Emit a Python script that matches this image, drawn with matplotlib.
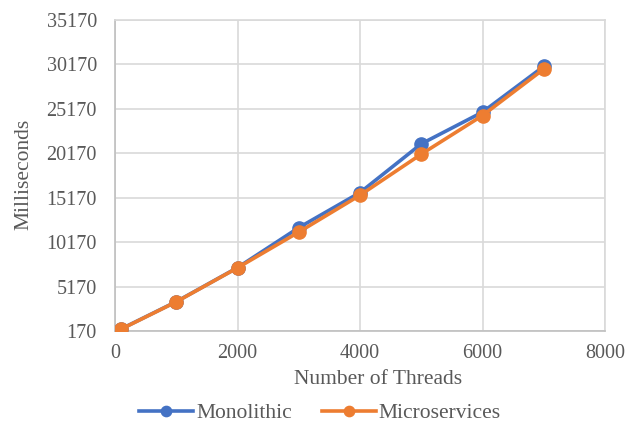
import matplotlib
matplotlib.use("Agg")
import matplotlib.pyplot as plt

threads = [100, 1000, 2000, 3000, 4000, 5000, 6000, 7000]
monolithic = [400, 3470, 7300, 11800, 15750, 21230, 24800, 29950]
microservices = [380, 3450, 7280, 11300, 15450, 20070, 24420, 29650]
yticks = [170, 5170, 10170, 15170, 20170, 25170, 30170, 35170]
xticks = [0, 2000, 4000, 6000, 8000]

plt.rcParams['font.family'] = ['Liberation Serif', 'DejaVu Serif']

W, H = 627, 424
fig = plt.figure(figsize=(W / 100, H / 100), dpi=100)
ax = fig.add_axes([115 / W, 1 - 331 / H, 490 / W, 311 / H])

blue = '#4472C4'
orange = '#ED7D31'
ax.plot(threads, monolithic, color=blue, lw=2.6, marker='o', ms=9.5, label='Monolithic', zorder=3)
ax.plot(threads, microservices, color=orange, lw=2.6, marker='o', ms=9.5, label='Microservices', zorder=4)

ax.set_xlim(0, 8000)
ax.set_ylim(170, 35170)
ax.set_xticks(xticks)
ax.set_yticks(yticks)
ax.grid(True, color='#D9D9D9', lw=1.2)
ax.set_axisbelow(True)
for s in ax.spines.values():
    s.set_color('#D9D9D9')
    s.set_linewidth(1.2)
ax.spines['bottom'].set_color('#BFBFBF')
ax.spines['left'].set_color('#BFBFBF')
ax.tick_params(axis='x', length=0, labelsize=14.5, colors='#595959', pad=9)
ax.tick_params(axis='y', length=0, labelsize=14.5, colors='#595959', pad=13)

fig.text(378 / W, 1 - 380 / H, 'Number of Threads', fontsize=15.5, color='#595959',
         ha='center', va='center')
fig.text(23.5 / W, 1 - 174 / H, 'Milliseconds', fontsize=15.5, color='#595959',
         ha='center', va='center', rotation=90)

leg = fig.legend(loc='center', bbox_to_anchor=(320 / W, 1 - 413 / H), ncol=2, frameon=False,
                 fontsize=15.5, handlelength=2.5, columnspacing=1.4, handletextpad=0.15,
                 markerscale=0.78, borderpad=0)
for t in leg.get_texts():
    t.set_color('#595959')

fig.savefig('out.png', dpi=100)
